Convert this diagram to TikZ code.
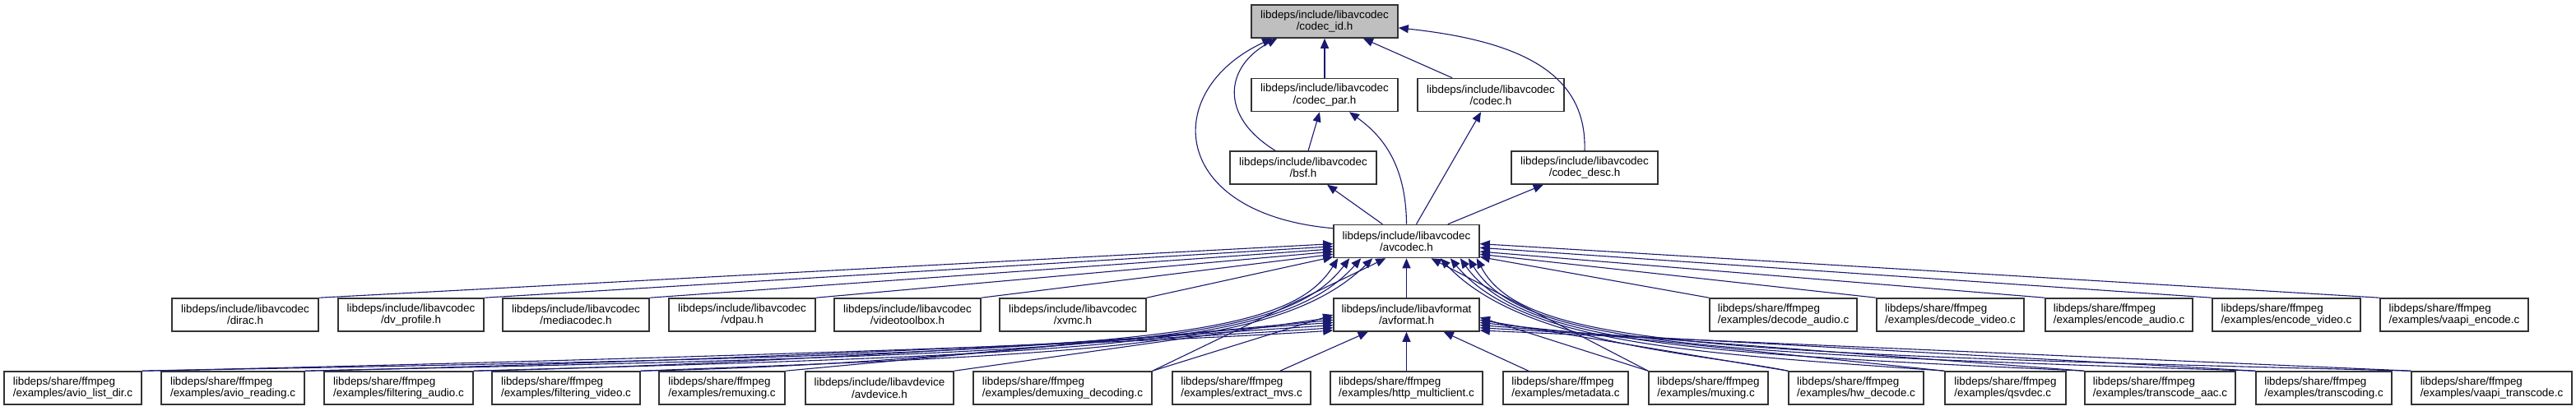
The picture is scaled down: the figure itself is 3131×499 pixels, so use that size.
\documentclass[tikz,border=0pt]{standalone}
\usepackage{fontspec}
\setmainfont{Liberation Sans}
\usetikzlibrary{arrows.meta}
\definecolor{edgeblue}{HTML}{191970}
\definecolor{rootgray}{HTML}{BFBFBF}
\tikzset{
  file/.style={draw=black!80, line width=0.8pt, minimum height=20pt, inner sep=0pt,
    align=center, font=\fontsize{6.7}{7.2}\selectfont},
  exfile/.style={file, align=left},
  dep/.style={draw=edgeblue, line width=0.55pt, -{Triangle[length=6pt,width=5pt]}},
}
\begin{document}
\begin{tikzpicture}[x=0.5pt, y=-0.5pt]
    \useasboundingbox (0,0) rectangle (3131,499);
    % headers of libavcodec
    \node[file, fill=rootgray, minimum width=89pt] (codecid) at (1610,26) {libdeps/include/libavcodec\\/codec\_id.h};
    \node[file, minimum width=89pt] (codecpar) at (1610,115.5) {libdeps/include/libavcodec\\/codec\_par.h};
    \node[file, minimum width=89pt] (codech) at (1812,115.5) {libdeps/include/libavcodec\\/codec.h};
    \node[file, minimum width=89pt] (bsfh) at (1584,204) {libdeps/include/libavcodec\\/bsf.h};
    \node[file, minimum width=89pt] (codecdesc) at (1926,204) {libdeps/include/libavcodec\\/codec\_desc.h};
    \node[file, minimum width=88.5pt] (avcodech) at (1709.5,293.5) {libdeps/include/libavcodec\\/avcodec.h};
    % row under avcodec.h
    \node[file, minimum width=89pt] (dirac) at (298,383) {libdeps/include/libavcodec\\/dirac.h};
    \node[file, minimum width=88.5pt] (dvprofile) at (499.5,383) {libdeps/include/libavcodec\\/dv\_profile.h};
    \node[file, minimum width=89pt] (mediacodec) at (700,383) {libdeps/include/libavcodec\\/mediacodec.h};
    \node[file, minimum width=89pt] (vdpau) at (902,383) {libdeps/include/libavcodec\\/vdpau.h};
    \node[file, minimum width=89pt] (videotoolbox) at (1103,383) {libdeps/include/libavcodec\\/videotoolbox.h};
    \node[file, minimum width=89pt] (xvmc) at (1304,383) {libdeps/include/libavcodec\\/xvmc.h};
    \node[file, minimum width=88.5pt] (avformath) at (1709.5,383) {libdeps/include/libavformat\\/avformat.h};
    \node[exfile, minimum width=89.5pt] (decodeaudio) at (2167.5,383) {libdeps/share/ffmpeg\\/examples/decode\_audio.c};
    \node[exfile, minimum width=89.5pt] (decodevideo) at (2370.5,383) {libdeps/share/ffmpeg\\/examples/decode\_video.c};
    \node[exfile, minimum width=89.5pt] (encodeaudio) at (2575.5,383) {libdeps/share/ffmpeg\\/examples/encode\_audio.c};
    \node[exfile, minimum width=90pt] (encodevideo) at (2779,383) {libdeps/share/ffmpeg\\/examples/encode\_video.c};
    \node[exfile, minimum width=90pt] (vaapiencode) at (2983,383) {libdeps/share/ffmpeg\\/examples/vaapi\_encode.c};
    % bottom row
    \node[exfile, minimum width=83.5pt] (aviolistdir) at (88.5,472) {libdeps/share/ffmpeg\\/examples/avio\_list\_dir.c};
    \node[exfile, minimum width=87pt] (avioreading) at (283,472) {libdeps/share/ffmpeg\\/examples/avio\_reading.c};
    \node[exfile, minimum width=90.5pt] (filteringaudio) at (484.5,472) {libdeps/share/ffmpeg\\/examples/filtering\_audio.c};
    \node[exfile, minimum width=90pt] (filteringvideo) at (688,472) {libdeps/share/ffmpeg\\/examples/filtering\_video.c};
    \node[exfile, minimum width=76.5pt] (remuxing) at (877.5,472) {libdeps/share/ffmpeg\\/examples/remuxing.c};
    \node[file, minimum width=90pt] (avdevice) at (1069,472) {libdeps/include/libavdevice\\/avdevice.h};
    \node[exfile, minimum width=108.5pt] (demuxing) at (1291.5,472) {libdeps/share/ffmpeg\\/examples/demuxing\_decoding.c};
    \node[exfile, minimum width=84pt] (extractmvs) at (1509,472) {libdeps/share/ffmpeg\\/examples/extract\_mvs.c};
    \node[exfile, minimum width=92.5pt] (httpmulticlient) at (1709.5,472) {libdeps/share/ffmpeg\\/examples/http\_multiclient.c};
    \node[exfile, minimum width=76pt] (metadata) at (1903,472) {libdeps/share/ffmpeg\\/examples/metadata.c};
    \node[exfile, minimum width=72.5pt] (muxing) at (2076.5,472) {libdeps/share/ffmpeg\\/examples/muxing.c};
    \node[exfile, minimum width=82pt] (hwdecode) at (2256,472) {libdeps/share/ffmpeg\\/examples/hw\_decode.c};
    \node[exfile, minimum width=73.5pt] (qsvdec) at (2437.5,472) {libdeps/share/ffmpeg\\/examples/qsvdec.c};
    \node[exfile, minimum width=91.5pt] (transcodeaac) at (2625.5,472) {libdeps/share/ffmpeg\\/examples/transcode\_aac.c};
    \node[exfile, minimum width=82.5pt] (transcoding) at (2824.5,472) {libdeps/share/ffmpeg\\/examples/transcoding.c};
    \node[exfile, minimum width=97.5pt] (vaapitranscode) at (3028.5,472) {libdeps/share/ffmpeg\\/examples/vaapi\_transcode.c};

    % includes of codec_id.h
    \draw[dep] (codecpar) -- (codecid);
    \draw[dep] (codech) -- (codecid);
    \draw[dep] ([xshift=-17pt]bsfh.north) .. controls (1480,140) and (1490,80) .. ([xshift=16pt]codecid.south west);
    \draw[dep] (avcodech.170) .. controls (1420,260) and (1410,110) .. ([xshift=13pt]codecid.south west);
    \draw[dep] (codecdesc.north) .. controls (1929,90) and (1850,50) .. (codecid.355);
    % upper part
    \draw[dep] (bsfh) -- (codecpar);
    \draw[dep] (avcodech.north) .. controls (1709,200) and (1680,165) .. ([xshift=15pt]codecpar.south);
    \draw[dep] (avcodech) -- (codech);
    \draw[dep] (avcodech) -- (bsfh);
    \draw[dep] (avcodech) -- (codecdesc);
    \draw[dep] (avformath) -- (avcodech);
    % row under avcodec.h
    \foreach \src/\ang in {dirac/182, dvprofile/184, mediacodec/186, vdpau/188, videotoolbox/190, xvmc/192}
      \draw[dep] (\src.north east) -- (avcodech.\ang);
    \foreach \src/\ang in {decodeaudio/348, decodevideo/350, encodeaudio/352, encodevideo/355, vaapiencode/358}
      \draw[dep] (\src.north west) -- (avcodech.\ang);
    % bottom row to avcodec.h
    \draw[dep] (aviolistdir.north east) .. controls (1350,430) and (1560,420) .. ([xshift=3pt]avcodech.south west);
    \draw[dep] (avioreading.north east) .. controls (1350,430) and (1560,420) .. ([xshift=10pt]avcodech.south west);
    \draw[dep] (filteringaudio.north east) .. controls (1350,430) and (1560,420) .. ([xshift=17pt]avcodech.south west);
    \draw[dep] (filteringvideo.north east) .. controls (1350,430) and (1560,420) .. ([xshift=24pt]avcodech.south west);
    \draw[dep] (demuxing.north east) -- ([xshift=32pt]avcodech.south west);
    \draw[dep] (muxing.north west) -- ([xshift=15pt]avcodech.south);
    \draw[dep] (hwdecode.north west) .. controls (2070,430) and (1850,420) .. ([xshift=-24pt]avcodech.south east);
    \draw[dep] (qsvdec.north west) .. controls (2070,430) and (1850,420) .. ([xshift=-18pt]avcodech.south east);
    \draw[dep] (transcodeaac.north west) .. controls (2070,430) and (1850,420) .. ([xshift=-12pt]avcodech.south east);
    \draw[dep] (transcoding.north west) .. controls (2070,430) and (1850,420) .. ([xshift=-7pt]avcodech.south east);
    \draw[dep] (vaapitranscode.north west) .. controls (2070,430) and (1850,420) .. ([xshift=-2pt]avcodech.south east);
    % bottom row to avformat.h
    \draw[dep] (aviolistdir.north east) .. controls (522,444) and (1321,422) .. (avformath.192);
    \draw[dep] (avioreading.north east) .. controls (720,444) and (1321,419) .. (avformath.190);
    \draw[dep] (filteringaudio.north east) .. controls (925,444) and (1321,415) .. (avformath.188);
    \draw[dep] (filteringvideo.north east) .. controls (1128,444) and (1321,412) .. (avformath.186);
    \draw[dep] (remuxing.north east) -- (avformath.184);
    \draw[dep] (avdevice.north east) -- (avformath.182);
    \draw[dep] (demuxing.north east) -- (avformath.180);
    \draw[dep] (extractmvs) -- (avformath);
    \draw[dep] (httpmulticlient) -- (avformath);
    \draw[dep] (metadata) -- (avformath);
    \foreach \src/\ang in {muxing/358, hwdecode/356, qsvdec/354, transcodeaac/352, transcoding/350, vaapitranscode/348}
      \draw[dep] (\src.north west) -- (avformath.\ang);
\end{tikzpicture}
\end{document}
